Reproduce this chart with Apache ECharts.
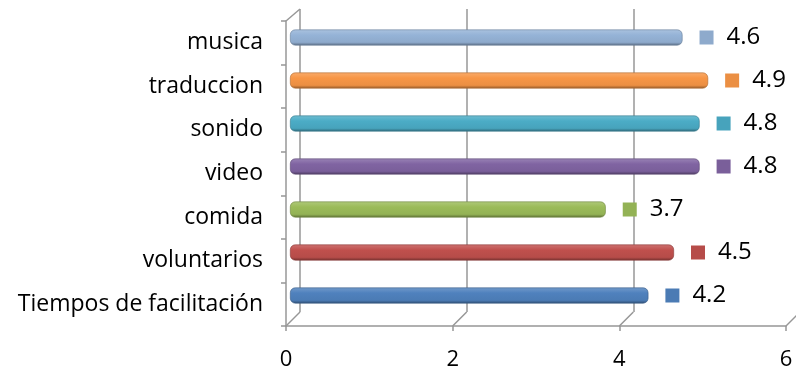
<!DOCTYPE html>
<html>
<head>
<meta charset="utf-8">
<script src="https://cdn.jsdelivr.net/npm/echarts@6/dist/echarts.min.js"></script>
<style>html,body{margin:0;padding:0;background:#fff}#c{width:796px;height:369px}</style>
</head>
<body>
<div id="c"></div>
<script>
// Data (bottom to top)
const categories = ['Tiempos de facilitación', 'voluntarios', 'comida', 'video', 'sonido', 'traduccion', 'musica'];
const values = [4.2, 4.5, 3.7, 4.8, 4.8, 4.9, 4.6];
const xTicks = [0, 2, 4, 6];
// Styles
const palette = ['#4F81BD', '#C0504D', '#9BBB59', '#8064A2', '#4BACC6', '#F79646', '#95B3D7'];
const FONT = 'Open Sans';
const GRIDC = '#979797';

function shade(hex, f) {
  const n = parseInt(hex.slice(1), 16);
  let r = (n >> 16) & 255, g = (n >> 8) & 255, b = n & 255;
  const m = c => f >= 0 ? Math.round(c + (255 - c) * f) : Math.round(c * (1 + f));
  return 'rgb(' + m(r) + ',' + m(g) + ',' + m(b) + ')';
}

const chart = echarts.init(document.getElementById('c'), null, {renderer: 'canvas'});

const barData = values.map((v, i) => ({
  value: v,
  itemStyle: {
    color: new echarts.graphic.LinearGradient(0, 0, 0, 1, [
      {offset: 0, color: shade(palette[i], 0.2)},
      {offset: 0.35, color: palette[i]},
      {offset: 0.8, color: shade(palette[i], -0.05)},
      {offset: 1, color: shade(palette[i], -0.4)}
    ]),
    borderRadius: 5,
    borderColor: shade(palette[i], -0.3),
    borderWidth: 0.6
  },
  label: {
    rich: {
      s: {width: 14, height: 14, backgroundColor: shade(palette[i], -0.05)}
    }
  }
}));

const option = {
  animation: false,
  grid: [
    {left: 286, right: 10, top: 21, bottom: 43, outerBoundsMode: 'none'},      // front axes
    {left: 300, right: -4, top: 9, bottom: 57, outerBoundsMode: 'none'},       // back wall
    {left: 290, width: 512, top: 16, bottom: 52, outerBoundsMode: 'none'}      // bars
  ],
  xAxis: [
    {gridIndex: 0, type: 'value', min: 0, max: 6, interval: 2,
     axisLine: {show: true, lineStyle: {color: GRIDC, width: 1.5}},
     axisTick: {show: true, length: 5, lineStyle: {color: GRIDC, width: 1.5}},
     axisLabel: {fontFamily: FONT, fontSize: 22, color: '#000', margin: 23},
     splitLine: {show: false}},
    {gridIndex: 1, type: 'value', min: 0, max: 6, interval: 2,
     axisLine: {show: false}, axisTick: {show: false}, axisLabel: {show: false},
     splitLine: {show: true, lineStyle: {color: GRIDC, width: 1.5}}},
    {gridIndex: 2, type: 'value', min: 0, max: 6, show: false}
  ],
  yAxis: [
    {gridIndex: 0, type: 'category', data: categories,
     axisLine: {show: true, lineStyle: {color: GRIDC, width: 1.5}},
     axisTick: {show: true, length: 5, lineStyle: {color: GRIDC, width: 1.5}},
     axisLabel: {fontFamily: FONT, fontSize: 23, color: '#000', margin: 23},
     splitLine: {show: false}},
    {gridIndex: 1, type: 'value', show: false},
    {gridIndex: 2, type: 'category', data: categories, show: false}
  ],
  series: [
    {
      type: 'custom', xAxisIndex: 0, yAxisIndex: 0, silent: true,
      data: xTicks.map(t => [t]),
      renderItem: function (params, api) {
        const p = api.coord([api.value(0), 0]);
        const h = api.size([0, 1])[1];
        const y = p[1] + h / 2;
        const children = [{type: 'line', shape: {x1: p[0], y1: y, x2: p[0] + 14, y2: y - 14},
          style: {stroke: GRIDC, lineWidth: 1.5}}];
        if (params.dataIndex === 0) {
          const top = api.coord([0, categories.length - 1])[1] - h / 2;
          children.push({type: 'line', shape: {x1: p[0], y1: top, x2: p[0] + 14, y2: top - 12},
            style: {stroke: GRIDC, lineWidth: 1.5}});
        }
        return {type: 'group', children: children};
      }
    },
    {
      type: 'bar', xAxisIndex: 2, yAxisIndex: 2,
      data: barData, barWidth: 16,
      label: {
        show: true, position: 'right', distance: 17,
        formatter: p => '{s|}{g|}{v|' + p.value + '}',
        rich: {
          g: {width: 13},
          v: {fontFamily: FONT, fontSize: 24, color: '#000'}
        }
      }
    }
  ]
};
chart.setOption(option);
</script>
</body>
</html>
